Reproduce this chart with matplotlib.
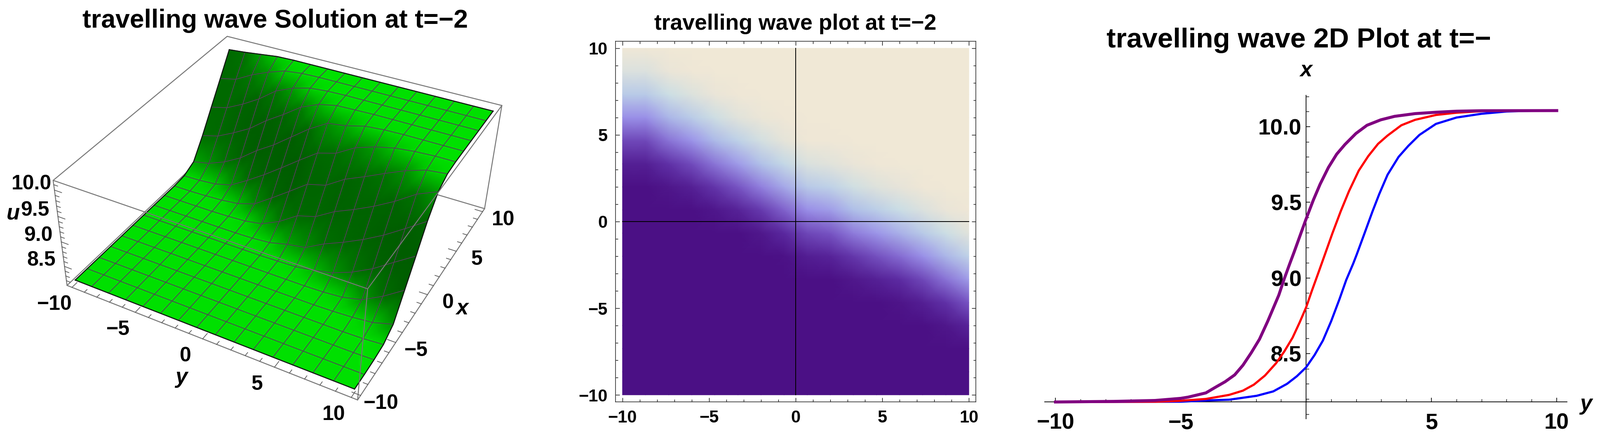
import numpy as np
import matplotlib
matplotlib.use('Agg')
import matplotlib.pyplot as plt
from matplotlib.colors import LinearSegmentedColormap

W, H = 3881, 1064
plt.rcParams['font.family'] = ['Liberation Sans', 'DejaVu Sans']
plt.rcParams['font.weight'] = 'bold'

# values, rows are x, columns are y
grid_x = [-10, -8.67, -7.33, -6, -4.67, -3.33, -2, -0.67, 0.67, 2, 3.33, 4.67, 6, 7.33, 8.67, 10]
grid_y = [-10, -8.67, -7.33, -6, -4.67, -3.33, -2, -0.67, 0.67, 2, 3.33, 4.67, 6, 7.33, 8.67, 10]
density_table = [
    [8.18, 8.18, 8.18, 8.18, 8.18, 8.18, 8.18, 8.18, 8.18, 8.18, 8.18, 8.18, 8.18, 8.18, 8.18, 8.18],
    [8.18, 8.18, 8.18, 8.18, 8.18, 8.18, 8.18, 8.18, 8.18, 8.18, 8.18, 8.18, 8.18, 8.18, 8.18, 8.19],
    [8.18, 8.18, 8.18, 8.18, 8.18, 8.18, 8.18, 8.18, 8.18, 8.18, 8.18, 8.18, 8.18, 8.19, 8.20, 8.25],
    [8.18, 8.18, 8.18, 8.18, 8.18, 8.18, 8.18, 8.18, 8.18, 8.18, 8.18, 8.19, 8.20, 8.22, 8.30, 8.44],
    [8.18, 8.18, 8.18, 8.18, 8.18, 8.18, 8.18, 8.18, 8.18, 8.19, 8.21, 8.23, 8.29, 8.39, 8.55, 8.73],
    [8.18, 8.18, 8.18, 8.18, 8.18, 8.18, 8.18, 8.19, 8.22, 8.25, 8.32, 8.41, 8.53, 8.67, 8.88, 9.11],
    [8.18, 8.18, 8.18, 8.18, 8.18, 8.19, 8.21, 8.27, 8.38, 8.44, 8.58, 8.71, 8.84, 9.02, 9.28, 9.55],
    [8.18, 8.18, 8.18, 8.19, 8.21, 8.24, 8.32, 8.49, 8.66, 8.73, 8.92, 9.05, 9.24, 9.46, 9.71, 9.90],
    [8.19, 8.19, 8.20, 8.23, 8.31, 8.43, 8.60, 8.80, 9.01, 9.11, 9.34, 9.50, 9.69, 9.84, 9.98, 10.05],
    [8.22, 8.22, 8.30, 8.40, 8.57, 8.73, 8.94, 9.18, 9.45, 9.55, 9.75, 9.87, 9.96, 10.04, 10.07, 10.09],
    [8.39, 8.39, 8.55, 8.69, 8.89, 9.10, 9.36, 9.62, 9.83, 9.90, 9.99, 10.04, 10.07, 10.09, 10.10, 10.10],
    [8.67, 8.67, 8.88, 9.04, 9.31, 9.54, 9.77, 9.94, 10.04, 10.05, 10.08, 10.09, 10.10, 10.10, 10.10, 10.10],
    [9.02, 9.02, 9.28, 9.48, 9.73, 9.90, 10.00, 10.06, 10.09, 10.09, 10.10, 10.10, 10.10, 10.10, 10.10, 10.10],
    [9.46, 9.46, 9.71, 9.86, 9.98, 10.05, 10.08, 10.10, 10.10, 10.10, 10.10, 10.10, 10.10, 10.10, 10.10, 10.10],
    [9.84, 9.84, 9.98, 10.04, 10.08, 10.09, 10.10, 10.10, 10.10, 10.10, 10.10, 10.10, 10.10, 10.10, 10.10, 10.10],
    [10.04, 10.04, 10.07, 10.09, 10.10, 10.10, 10.10, 10.10, 10.10, 10.10, 10.10, 10.10, 10.10, 10.10, 10.10, 10.10],
]
surface_table = [
    [8.18, 8.18, 8.18, 8.18, 8.18, 8.18, 8.18, 8.18, 8.18, 8.18, 8.18, 8.18, 8.18, 8.18, 8.18, 8.18],
    [8.18, 8.18, 8.18, 8.18, 8.18, 8.18, 8.18, 8.18, 8.18, 8.18, 8.18, 8.18, 8.18, 8.18, 8.18, 8.18],
    [8.18, 8.18, 8.18, 8.18, 8.18, 8.18, 8.18, 8.18, 8.18, 8.18, 8.18, 8.18, 8.18, 8.18, 8.18, 8.19],
    [8.18, 8.18, 8.18, 8.18, 8.18, 8.18, 8.18, 8.18, 8.18, 8.18, 8.18, 8.18, 8.18, 8.18, 8.19, 8.22],
    [8.18, 8.18, 8.18, 8.18, 8.18, 8.18, 8.18, 8.18, 8.18, 8.18, 8.18, 8.18, 8.19, 8.21, 8.25, 8.36],
    [8.18, 8.18, 8.18, 8.18, 8.18, 8.18, 8.18, 8.18, 8.18, 8.18, 8.18, 8.19, 8.22, 8.31, 8.52, 8.78],
    [8.18, 8.18, 8.18, 8.18, 8.18, 8.18, 8.18, 8.18, 8.19, 8.20, 8.26, 8.34, 8.49, 8.69, 8.95, 9.20],
    [8.18, 8.18, 8.18, 8.18, 8.18, 8.18, 8.19, 8.22, 8.31, 8.37, 8.57, 8.73, 8.91, 9.12, 9.37, 9.63],
    [8.18, 8.18, 8.18, 8.18, 8.19, 8.21, 8.27, 8.44, 8.68, 8.78, 9.00, 9.16, 9.34, 9.55, 9.80, 9.96],
    [8.18, 8.18, 8.19, 8.21, 8.25, 8.36, 8.60, 8.85, 9.11, 9.20, 9.43, 9.59, 9.76, 9.92, 10.04, 10.08],
    [8.20, 8.21, 8.24, 8.33, 8.54, 8.77, 9.02, 9.28, 9.53, 9.63, 9.84, 9.96, 10.04, 10.08, 10.10, 10.10],
    [8.31, 8.38, 8.52, 8.71, 8.97, 9.19, 9.45, 9.71, 9.92, 9.97, 10.06, 10.09, 10.10, 10.10, 10.10, 10.10],
    [8.69, 8.78, 8.95, 9.14, 9.40, 9.62, 9.86, 10.01, 10.08, 10.09, 10.10, 10.10, 10.10, 10.10, 10.10, 10.10],
    [9.12, 9.20, 9.37, 9.57, 9.82, 9.97, 10.06, 10.09, 10.10, 10.10, 10.10, 10.10, 10.10, 10.10, 10.10, 10.10],
    [9.55, 9.62, 9.80, 9.94, 10.05, 10.09, 10.10, 10.10, 10.10, 10.10, 10.10, 10.10, 10.10, 10.10, 10.10, 10.10],
    [9.98, 10.01, 10.05, 10.09, 10.10, 10.10, 10.10, 10.10, 10.10, 10.10, 10.10, 10.10, 10.10, 10.10, 10.10, 10.10],
]

# 2D curves
purple_y = [-10, -7.68, -6.03, -5.01, -4.71, -4.0, -3.62, -3.23, -2.85, -2.52, -2.19, -1.86, -1.53, -1.31, -1.09, -0.87, -0.65,
            -0.48, -0.24, 0, 0.29, 0.56, 0.89, 1.22, 1.55, 1.99, 2.43, 2.98, 3.53, 4.35, 5.18, 6, 7, 10]
purple_u = [8.18, 8.184, 8.19, 8.204, 8.212, 8.24, 8.277, 8.314, 8.359, 8.423, 8.505, 8.595, 8.714, 8.80, 8.886, 8.995, 9.095,
            9.17, 9.28, 9.39, 9.515, 9.62, 9.73, 9.818, 9.882, 9.955, 10.009, 10.045, 10.068, 10.086, 10.095, 10.102, 10.105, 10.106]
red_y = [-10, -6, -5, -4, -3.07, -2.52, -2.08, -1.64, -1.2, -0.87, -0.54, -0.26, 0, 0.23, 0.505, 0.75, 1.05, 1.38, 1.71, 2.1,
         2.48, 2.87, 3.25, 3.8, 4.35, 5.18, 6, 7, 8, 10]
red_u = [8.18, 8.182, 8.188, 8.2, 8.227, 8.255, 8.295, 8.355, 8.436, 8.514, 8.605, 8.705, 8.805, 8.915, 9.041, 9.155, 9.295,
         9.44, 9.573, 9.709, 9.805, 9.886, 9.941, 10.009, 10.045, 10.077, 10.092, 10.102, 10.105, 10.106]
blue_y = [-10, -5, -4, -3.07, -1.97, -1.31, -0.76, -0.37, 0, 0.34, 0.67, 1.0, 1.33, 1.6, 1.88, 2.02, 2.32, 2.65, 2.92, 3.25,
          3.69, 4.08, 4.52, 5.18, 6, 7, 8, 9, 10]
blue_u = [8.18, 8.182, 8.19, 8.195, 8.221, 8.25, 8.30, 8.35, 8.409, 8.491, 8.586, 8.714, 8.859, 8.986, 9.095, 9.155, 9.29, 9.44,
          9.555, 9.682, 9.80, 9.873, 9.945, 10.018, 10.06, 10.085, 10.10, 10.105, 10.106]

ticks_major = [-10, -5, 0, 5, 10]
ticks_2d_x = [-10, -5, 5, 10]
ticks_2d_u = [8.5, 9.0, 9.5, 10.0]
ticks_3d_u = [8.5, 9.0, 9.5, 10.0]

X, Y = np.meshgrid(grid_x, grid_y, indexing='ij')
U = np.array(surface_table)

fig = plt.figure(figsize=(W / 100, H / 100), dpi=100, facecolor='white')


def px_axes(left, top, right, bottom):
    return fig.add_axes([left / W, 1 - bottom / H, (right - left) / W, (bottom - top) / H])


# full figure axes in pixels, holds the 3D panel and the titles
canvas = fig.add_axes([0, 0, 1, 1])
canvas.set_xlim(0, W)
canvas.set_ylim(H, 0)
canvas.axis('off')

# camera fitted to the corners of the bounding box
pad = 10.4
zlo, zhi = 8.1, 10.18
corners = {
    'A': ((-pad, -pad, zlo), (166, 690)),
    'B': ((-pad, pad, zlo), (872, 969)),
    'C': ((pad, pad, zlo), (1179, 500)),
    'D': ((pad, -pad, zlo), (544, 328)),
    'E': ((-pad, -pad, zhi), (126, 435)),
    'F': ((-pad, pad, zhi), (886, 705)),
    'G': ((pad, pad, zhi), (1214, 258)),
    'H': ((pad, -pad, zhi), (561, 85)),
}
rows = []
for (xw, yw, zw), (px, py) in corners.values():
    v = [xw, yw, zw, 1]
    rows.append(v + [0, 0, 0, 0] + [-px * c for c in v])
    rows.append([0, 0, 0, 0] + v + [-py * c for c in v])
cam = np.linalg.svd(np.array(rows, dtype=float))[2][-1].reshape(3, 4)


def project(x, y, z):
    x, y, z = np.asarray(x, float), np.asarray(y, float), np.asarray(z, float)
    w = cam[2, 0] * x + cam[2, 1] * y + cam[2, 2] * z + cam[2, 3]
    return ((cam[0, 0] * x + cam[0, 1] * y + cam[0, 2] * z + cam[0, 3]) / w,
            (cam[1, 0] * x + cam[1, 1] * y + cam[1, 2] * z + cam[1, 3]) / w)


def edge(a, b, zorder):
    pa, pb = corners[a][0], corners[b][0]
    sx, sy = project([pa[0], pb[0]], [pa[1], pb[1]], [pa[2], pb[2]])
    canvas.plot(sx, sy, color='#777777', lw=1.7, zorder=zorder, solid_capstyle='round')


for a, b in ['EH', 'HG', 'GC', 'CD', 'DA']:
    edge(a, b, 1)

# surface, dark where it is steep
slope_x, slope_y = np.gradient(U, grid_x, grid_y)
steep = np.hypot(slope_x, slope_y)
greens = LinearSegmentedColormap.from_list('greens', ['#00e000', '#00cc00', '#009800', '#007000', '#005800'])
sx, sy = project(X, Y, U)
canvas.pcolormesh(sx, sy, steep, shading='gouraud', cmap=greens, vmin=0.03, vmax=0.39, zorder=2)
canvas.plot(sx, sy, color='#54405a', lw=1.3, zorder=3)
canvas.plot(sx.T, sy.T, color='#54405a', lw=1.3, zorder=3)
for line in ((sx[0], sy[0]), (sx[-1], sy[-1]), (sx[:, 0], sy[:, 0]), (sx[:, -1], sy[:, -1])):
    canvas.plot(line[0], line[1], color='#101810', lw=1.8, zorder=3)

for a, b in ['EF', 'FG', 'FB', 'AB', 'BC', 'AE']:
    edge(a, b, 4)

# ticks on the 3D box
for v in range(-10, 11):
    tl = 0.55 if v % 5 == 0 else 0.3
    tx, ty = project([-pad, -pad + tl], [v, v], [zlo, zlo])
    canvas.plot(tx, ty, color='#555555', lw=1.2, zorder=4)
    tx, ty = project([v, v], [pad, pad - tl], [zlo, zlo])
    canvas.plot(tx, ty, color='#555555', lw=1.2, zorder=4)
for v in np.arange(8.2, 10.11, 0.1):
    major = round(v * 10) % 5 == 0
    tl = 0.55 if major else 0.3
    tx, ty = project([-pad, -pad], [-pad, -pad + tl], [v, v])
    canvas.plot(tx, ty, color='#555555', lw=1.2, zorder=4)


def tick_text(v):
    return str(v).replace('-', '\u2212')


fs3d = 36
for v in ticks_major:
    tx, ty = project(-pad, v, zlo)
    canvas.text(tx - 42, ty + 42, tick_text(v), fontsize=fs3d, ha='center', va='center', zorder=5)
    tx, ty = project(v, pad, zlo)
    canvas.text(tx + 50, ty + 20, tick_text(v), fontsize=fs3d, ha='center', va='center', zorder=5)
for v in ticks_3d_u:
    tx, ty = project(-pad, -pad, v)
    canvas.text(tx - 56, ty - 15, '%.1f' % v, fontsize=fs3d, ha='center', va='center', zorder=5)
for s, px, py in [('u', 32, 517), ('y', 440, 915), ('x', 1121, 748)]:
    canvas.text(px, py, s, fontsize=38, style='italic', ha='center', va='center', zorder=5)

canvas.text(667, 50, 'travelling wave Solution at t=\u22122', fontsize=45, ha='center', va='center')
canvas.text(1929, 58, 'travelling wave plot at t=\u22122', fontsize=38.5, ha='center', va='center')
canvas.text(3150, 98, 'travelling wave 2D Plot at t=\u2212', fontsize=48.5, ha='center', va='center')

# density panel
ax2 = px_axes(1493, 100, 2367, 974)
density = LinearSegmentedColormap.from_list('density', [
    (0.0, '#4b1085'), (0.036, '#4b1085'), (0.073, '#50198d'), (0.177, '#5c2ba2'), (0.297, '#7a58c6'), (0.4375, '#9a90e8'),
    (0.609, '#b0c0e8'), (0.78, '#c8dde6'), (0.906, '#e3e3da'), (0.969, '#efe7d6'), (1.0, '#f0e8d6')])
ax2.pcolormesh(grid_y, grid_x, density_table, shading='gouraud', cmap=density, vmin=8.18, vmax=10.1)
ax2.plot([-10, 10], [0, 0], color='black', lw=1.4)
ax2.plot([0, 0], [-10, 10], color='black', lw=1.4)
ax2.set_xlim(-10.4, 10.4)
ax2.set_ylim(-10.4, 10.4)
ax2.set_xticks(ticks_major)
ax2.set_yticks(ticks_major)
ax2.set_xticklabels([tick_text(v) for v in ticks_major])
ax2.set_yticklabels([tick_text(v) for v in ticks_major])
ax2.set_xticks(range(-10, 11), minor=True)
ax2.set_yticks(range(-10, 11), minor=True)
ax2.tick_params(which='major', direction='in', top=True, right=True, length=7, width=1, labelsize=30, pad=14)
ax2.tick_params(which='minor', direction='in', top=True, right=True, length=4, width=1)
for sp in ax2.spines.values():
    sp.set_linewidth(1.2)
    sp.set_color('#333333')

# 2D curves panel
ax3 = px_axes(2534, 231, 3801, 1015)
ax3.patch.set_alpha(0)
ax3.plot(blue_y, blue_u, color='#0000ff', lw=3.8, zorder=3)
ax3.plot(red_y, red_u, color='#ff0000', lw=3.8, zorder=4)
ax3.plot(purple_y, purple_u, color='#800080', lw=5.2, zorder=5)
ax3.set_xlim(-10.43, 10.41)
ax3.set_ylim(8.069, 10.207)
ax3.spines['top'].set_visible(False)
ax3.spines['right'].set_visible(False)
ax3.spines['bottom'].set_position(('data', 8.18))
ax3.spines['left'].set_position(('data', 0))
ax3.spines['bottom'].set_linewidth(1.3)
ax3.spines['left'].set_linewidth(1.3)
ax3.set_axisbelow(True)
ax3.set_xticks(ticks_2d_x)
ax3.set_xticklabels([tick_text(v) for v in ticks_2d_x])
ax3.set_yticks(ticks_2d_u)
ax3.set_yticklabels(['%.1f' % v for v in ticks_2d_u])
ax3.set_xticks(range(-10, 11), minor=True)
ax3.set_yticks(np.arange(8.1, 10.21, 0.1), minor=True)
ax3.tick_params(which='major', direction='in', length=7.2, width=1.2, labelsize=39)
ax3.tick_params(which='minor', direction='in', length=4.8, width=1)
ax3.tick_params(axis='x', which='major', pad=19)
ax3.tick_params(axis='y', which='major', pad=8)
canvas.text(3168, 171, 'x', fontsize=38, style='italic', ha='center', va='center')
canvas.text(3847, 980, 'y', fontsize=38, style='italic', ha='center', va='center')

fig.savefig('out.png', dpi=100)
